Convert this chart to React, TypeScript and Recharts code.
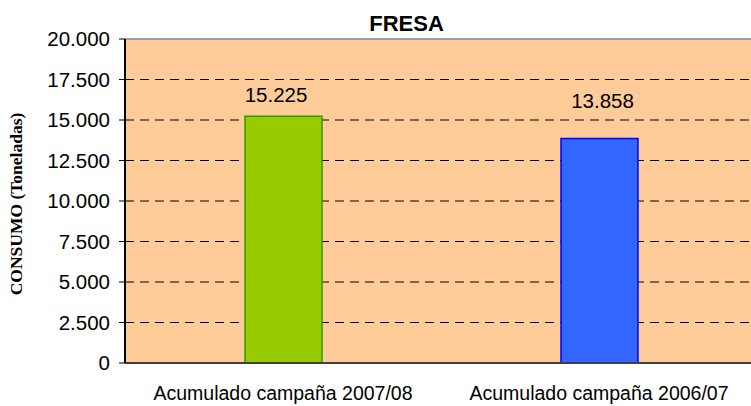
import React from 'react';
import { BarChart, Bar, XAxis, YAxis, CartesianGrid, ReferenceLine, LabelList, Cell } from 'recharts';

const categories = ['Acumulado campaña 2007/08', 'Acumulado campaña 2006/07'];
const consumo = [15225, 13858];
const barColors = ['#99CC00', '#3366FF'];
const barStrokes = ['#339900', '#0000FF'];
// hand-placed data labels in the original chart
const labelDx = [-7.5, 3];
const labelGaps = [14, 31];
const yTicks = [0, 2500, 5000, 7500, 10000, 12500, 15000, 17500, 20000];

const data = categories.map((name, i) => ({ name, value: consumo[i] }));

const fmt = (v: number) => v.toLocaleString('de-DE');
const font = '"Liberation Sans", Arial, sans-serif';

const ValueLabel = (props: any) => {
  const { x, y, width, value, index } = props;
  return (
    <text
      x={Number(x) + Number(width) / 2 + labelDx[index]}
      y={Number(y) - labelGaps[index]}
      textAnchor="middle"
      fontFamily={font}
      fontSize={20.5}
      fill="#000"
    >
      {fmt(Number(value))}
    </text>
  );
};

const App: React.FC = () => {
  return (
    <div style={{ position: 'absolute', left: 0, top: 0, width: 751, height: 406, overflow: 'hidden', background: '#fff' }}>
      <BarChart
        width={760}
        height={406}
        data={data}
        margin={{ top: 39, right: 3, left: 0, bottom: 0 }}
      >
        <CartesianGrid
          vertical={false}
          stroke="#000"
          strokeDasharray="9 6"
          fill="#FFCC99"
          fillOpacity={1}
        />
        <XAxis
          dataKey="name"
          height={43}
          tickSize={0}
          tickMargin={23}
          axisLine={{ stroke: '#404040', strokeWidth: 2 }}
          tick={{ fontSize: 19.5, fill: '#000', fontFamily: font }}
          interval={0}
        />
        <YAxis
          width={125}
          domain={[0, 20000]}
          ticks={yTicks}
          tickFormatter={fmt}
          tickSize={6}
          tickMargin={9}
          axisLine={{ stroke: '#000', strokeWidth: 2 }}
          tickLine={{ stroke: '#000' }}
          tick={{ fontSize: 20.5, fill: '#000', fontFamily: font }}
        />
        <ReferenceLine y={20000} stroke="#A0A0A0" strokeWidth={2} />
        <Bar dataKey="value" barSize={77} isAnimationActive={false}>
          {data.map((d, i) => (
            <Cell key={d.name} fill={barColors[i]} stroke={barStrokes[i]} strokeWidth={1.5} />
          ))}
          <LabelList dataKey="value" content={ValueLabel} />
        </Bar>
      </BarChart>
      <svg width={751} height={406} style={{ position: 'absolute', left: 0, top: 0, pointerEvents: 'none' }}>
        <text x={406.5} y={31} textAnchor="middle" fontFamily={font} fontWeight="bold" fontSize={22} fill="#000">
          FRESA
        </text>
        <text
          x={0}
          y={0}
          transform="translate(22,204) rotate(-90)"
          textAnchor="middle"
          fontFamily='"Liberation Serif", "Times New Roman", serif'
          fontWeight="bold"
          fontSize={17.5}
          fill="#000"
        >
          CONSUMO (Toneladas)
        </text>
      </svg>
    </div>
  );
};

export default App;
